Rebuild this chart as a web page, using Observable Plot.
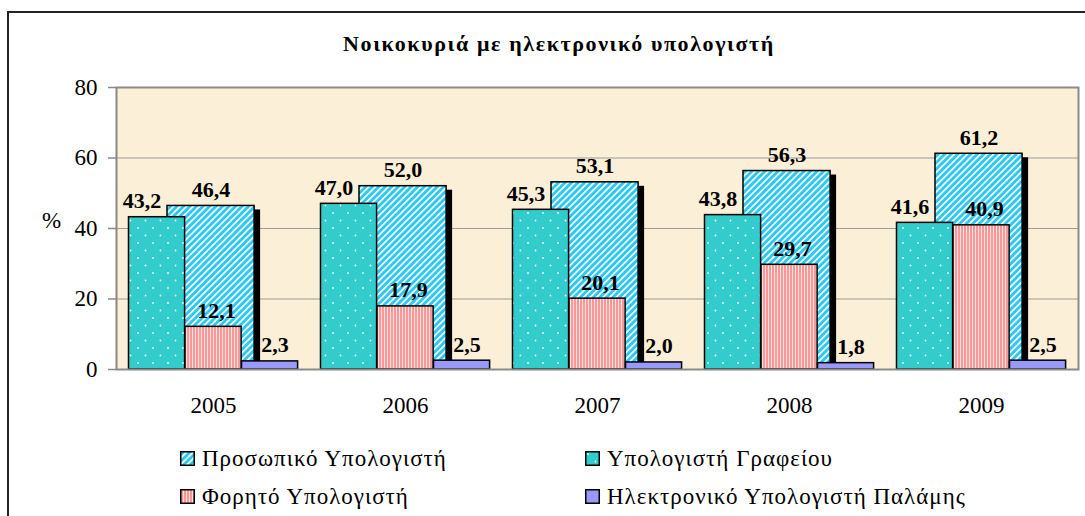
<!DOCTYPE html>
<html>
<head>
<meta charset="utf-8">
<script src="https://cdn.jsdelivr.net/npm/d3@7"></script>
<script src="https://cdn.jsdelivr.net/npm/@observablehq/plot@0.6"></script>
<style>
  html, body { margin: 0; padding: 0; background: #fff; width: 1085px; height: 516px; overflow: hidden; }
  body { position: relative; font-family: "Liberation Serif", "Times New Roman", serif; }
  #border { position: absolute; left: 7px; top: 11px; width: 1200px; height: 600px; border-left: 2px solid #222; border-top: 2px solid #222; box-sizing: border-box; }
  #title { position: absolute; left: 0; width: 1118px; top: 31px; text-align: center; font-weight: bold; font-size: 22px; letter-spacing: 1.6px; color: #000; }
  #chart { position: absolute; left: 0; top: 60px; }
  .leg { position: absolute; font-size: 23px; letter-spacing: 1px; color: #000; white-space: nowrap; line-height: 23px; }
  .leg svg { position: absolute; left: 0; top: 4px; }
  .leg span { position: absolute; left: 22px; top: 0; }
</style>
</head>
<body>
<svg width="0" height="0" style="position:absolute">
  <defs>
    <pattern id="pcPat" patternUnits="userSpaceOnUse" width="4.6" height="4.6" patternTransform="rotate(45)">
      <rect width="4.6" height="4.6" fill="#2bc8f4"></rect>
      <rect width="1.7" height="4.6" fill="#ffffff"></rect>
    </pattern>
    <pattern id="dtPat" patternUnits="userSpaceOnUse" width="15" height="15">
      <rect width="15" height="15" fill="#33cccc"></rect>
      <circle cx="3" cy="3" r="0.9" fill="#ffffff"></circle>
      <circle cx="10.5" cy="10.5" r="0.9" fill="#ffffff"></circle>
    </pattern>
    <pattern id="lpPat" patternUnits="userSpaceOnUse" width="3" height="3">
      <rect width="3" height="3" fill="#ff9595"></rect>
      <rect width="1" height="3" fill="#ffe6e6"></rect>
    </pattern>
  </defs>
</svg>
<div id="border"></div>
<div id="title">Νοικοκυριά με ηλεκτρονικό υπολογιστή</div>
<div id="chart"></div>
<div id="legend"></div>
<script>
// ---- data ----
const years = ["2005", "2006", "2007", "2008", "2009"];
const personal = [46.4, 52.0, 53.1, 56.3, 61.2];   // Προσωπικό Υπολογιστή
const desktop  = [43.2, 47.0, 45.3, 43.8, 41.6];   // Υπολογιστή Γραφείου
const laptop   = [12.1, 17.9, 20.1, 29.7, 40.9];   // Φορητό Υπολογιστή
const palm     = [2.3, 2.5, 2.0, 1.8, 2.5];        // Ηλεκτρονικό Υπολογιστή Παλάμης
const yTicks = [0, 20, 40, 60, 80];
const seriesNames = ["Προσωπικό Υπολογιστή", "Υπολογιστή Γραφείου", "Φορητό Υπολογιστή", "Ηλεκτρονικό Υπολογιστή Παλάμης"];

// ---- layout ----
const W = 1085, H = 364;
const mL = 116, mR = 7, mT = 27, mB = 55;
const B = (W - mL - mR) / years.length; // band width

const rows = (vals) => years.map((y, i) => ({year: y, value: vals[i]}));
const fmt = v => v.toFixed(1).replace(".", ",");

function bar(vals, left, right, opts) {
  return Plot.barY(rows(vals), {
    x: "year", y: "value",
    insetLeft: left, insetRight: B - right,
    ...opts
  });
}
function label(vals, center, shift) {
  return Plot.text(rows(vals), {
    x: "year", y: "value", text: d => fmt(d.value),
    dx: center - B / 2 + shift, dy: -16,
    lineAnchor: "middle", textAnchor: "middle",
    fontSize: 22, fontWeight: "bold", fill: "#000"
  });
}

const font = "'Liberation Serif', 'Times New Roman', serif";

const plot = Plot.plot({
  width: W, height: H,
  marginLeft: mL, marginRight: mR, marginTop: mT, marginBottom: mB,
  style: {fontFamily: font, background: "transparent", overflow: "visible"},
  x: {type: "band", domain: years, padding: 0},
  y: {domain: [0, 80]},
  marks: [
    Plot.frame({fill: "#fcefd8", stroke: "none"}),
    Plot.gridY(yTicks.filter(t => t > 0 && t < 80), {stroke: "#9a9a9a", strokeOpacity: 1, strokeWidth: 1}),
    // shadow of the personal-computer bars
    bar(personal, 50, 137.5, {fill: "#000", dx: 6, insetTop: 4}),
    bar(personal, 50, 137.5, {fill: "url(#pcPat)", stroke: "#000", strokeWidth: 1.5}),
    bar(desktop, 11.5, 68, {fill: "url(#dtPat)", stroke: "#000", strokeWidth: 1.5}),
    bar(laptop, 68, 124.5, {fill: "url(#lpPat)", stroke: "#000", strokeWidth: 1.5}),
    bar(palm, 124.5, 181, {fill: "#9999ff", stroke: "#000", strokeWidth: 1.5}),
    Plot.frame({stroke: "#8a8a8a", strokeWidth: 2, fill: "none"}),
    Plot.axisY({ticks: yTicks, tickSize: 8, tickPadding: 11, stroke: "#8a8a8a", strokeWidth: 1.5, fontSize: 23, fill: "#000", label: null}),
    Plot.axisX({tickSize: 0, tickPadding: 27, fontSize: 23, fill: "#000", label: null}),
    Plot.text(["%"], {frameAnchor: "left", text: d => d, dx: -65, dy: -8, fontSize: 23, fill: "#000", textAnchor: "middle"}),
    label(desktop, 39.75, -15),
    label(personal, 93.75, 0),
    label(laptop, 96.25, 3),
    label(palm, 152.75, 5)
  ]
});
document.getElementById("chart").appendChild(plot);

// ---- legend ----
const legendItems = [
  {name: seriesNames[0], fill: "url(#pcPat)", left: 180, top: 447},
  {name: seriesNames[1], fill: "url(#dtPat)", left: 585, top: 447},
  {name: seriesNames[2], fill: "url(#lpPat)", left: 180, top: 485},
  {name: seriesNames[3], fill: "#9999ff", left: 585, top: 485}
];
const leg = document.getElementById("legend");
legendItems.forEach(it => {
  const d = document.createElement("div");
  d.className = "leg";
  d.style.left = it.left + "px";
  d.style.top = it.top + "px";
  d.innerHTML = `<svg width="15" height="15"><rect x="0.75" y="0.75" width="13.5" height="13.5" fill="${it.fill}" stroke="#000" stroke-width="1.5"></rect></svg><span>${it.name}</span>`;
  leg.appendChild(d);
});
</script>
</body>
</html>
